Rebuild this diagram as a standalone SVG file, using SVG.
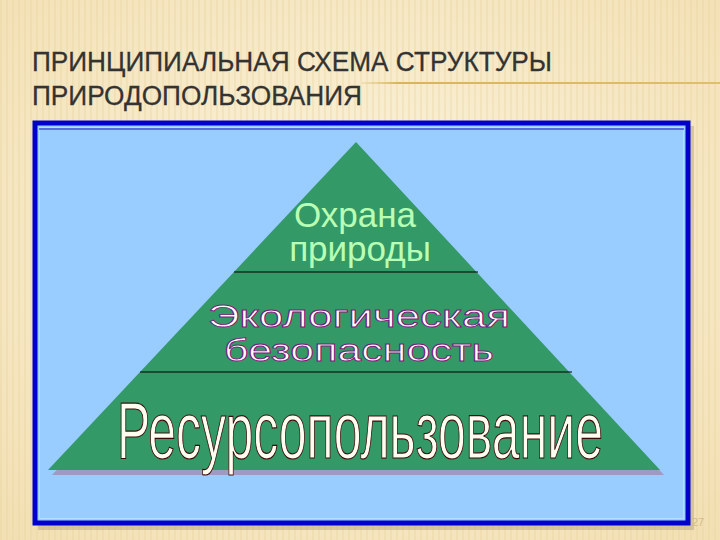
<svg xmlns="http://www.w3.org/2000/svg" width="720" height="540" viewBox="0 0 720 540">
  <defs>
    <radialGradient id="bg" cx="50%" cy="45%" r="75%">
      <stop offset="0" stop-color="#FCF4DF"/>
      <stop offset="1" stop-color="#F2DFB2"/>
    </radialGradient>
    <pattern id="stripes" width="6" height="10" patternUnits="userSpaceOnUse">
      <rect x="0" y="0" width="2" height="10" fill="#E8D29C" opacity="0.35"/>
    </pattern>
    <linearGradient id="rule" x1="0" x2="1" y1="0" y2="0">
      <stop offset="0" stop-color="#E2C67A" stop-opacity="0.3"/>
      <stop offset="0.1" stop-color="#D9B45E"/>
      <stop offset="1" stop-color="#E0BE6E"/>
    </linearGradient>
  </defs>
  <style>
    .title { font-family: "Liberation Sans", Arial, sans-serif; font-size: 27px; fill: #333333; stroke: #333333; stroke-width: 0.3; }
    .green { font-family: "Liberation Sans", Arial, sans-serif; font-size: 35px; fill: #B9FFB4; text-anchor: middle; }
    .eco { font-family: "Liberation Sans", Arial, sans-serif; font-size: 31px; fill: #FFFFFF; stroke: #7A1A7A; stroke-width: 0.9; }
    .big { font-family: "Liberation Sans", Arial, sans-serif; font-size: 79px; fill: #FFFDF0; stroke: #3A0A0A; stroke-width: 1.2; }
    .divider { stroke: #000000; stroke-width: 1.2; }
  </style>

  <!-- background -->
  <rect x="0" y="0" width="720" height="540" fill="url(#bg)"/>
  <rect x="0" y="0" width="720" height="540" fill="url(#stripes)"/>

  <!-- title -->
  <g id="title">
    <text class="title" x="32" y="71" textLength="520" lengthAdjust="spacingAndGlyphs">ПРИНЦИПИАЛЬНАЯ СХЕМА СТРУКТУРЫ</text>
    <text class="title" x="32" y="105" textLength="330" lengthAdjust="spacingAndGlyphs">ПРИРОДОПОЛЬЗОВАНИЯ</text>
    <rect x="362" y="82" width="358" height="2" fill="url(#rule)"/>
  </g>

  <!-- framed panel -->
  <g id="panel">
    <rect x="38" y="126" width="656" height="404" fill="#B8A882" opacity="0.5"/>
    <rect x="35" y="123" width="653" height="400" fill="#99CCFF" stroke="#0000CC" stroke-width="5"/>
    <rect x="39.5" y="127.5" width="644" height="391" fill="none" stroke="#B8DCFF" stroke-width="1"/>
    <line x1="39" y1="129" x2="684" y2="129" stroke="#1010C0" stroke-width="1"/>
  </g>

  <!-- pyramid -->
  <g id="pyramid">
    <polygon points="360,147 52,475 664,475" fill="#9C9CC0"/>
    <polygon points="356,142 48,470 660,470" fill="#339966"/>
  </g>

  <g id="connectors">
    <line class="divider" x1="234" y1="272" x2="478" y2="272"/>
    <line class="divider" x1="140" y1="372" x2="572" y2="372"/>
  </g>

  <g id="level-top">
    <text class="green" x="355" y="227">Охрана</text>
    <text class="green" x="360" y="261">природы</text>
  </g>

  <g id="level-middle">
    <text class="eco" x="208" y="327" textLength="302" lengthAdjust="spacingAndGlyphs">Экологическая</text>
    <text class="eco" x="224" y="361" textLength="270" lengthAdjust="spacingAndGlyphs">безопасность</text>
  </g>

  <g id="level-bottom">
    <text class="big" x="117" y="458" textLength="486" lengthAdjust="spacingAndGlyphs">Ресурсопользование</text>
  </g>

  <text x="692" y="526" font-family="Liberation Sans, Arial, sans-serif" font-size="11" fill="#D2BC8C">27</text>
</svg>
